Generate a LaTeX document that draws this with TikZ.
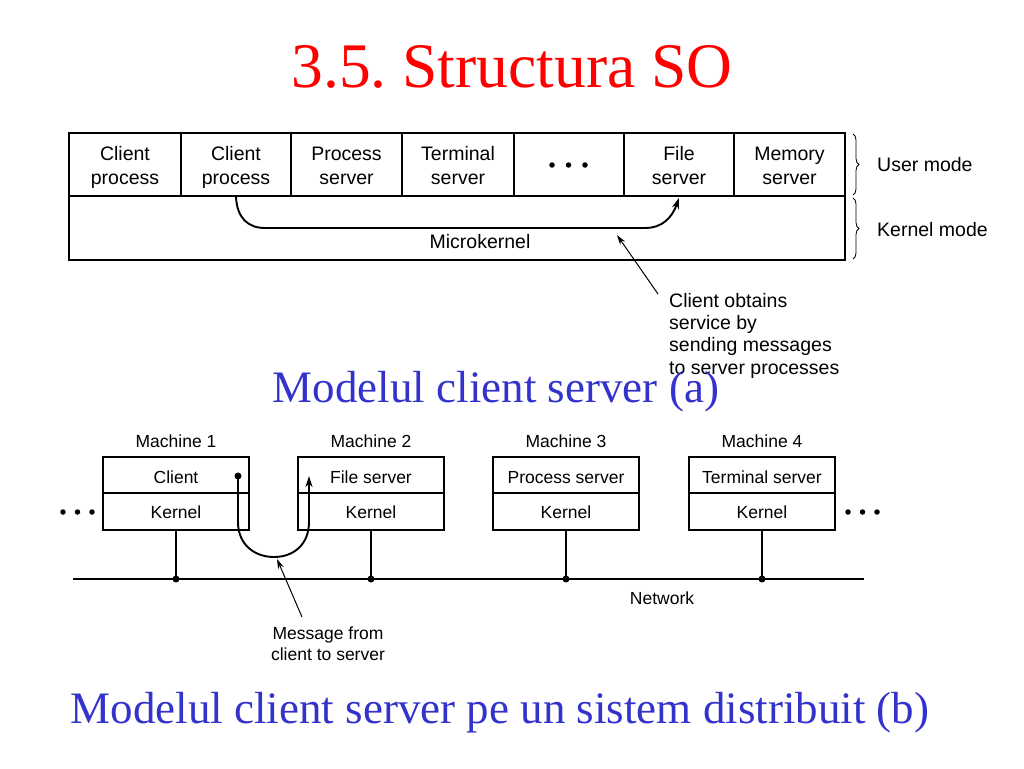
\documentclass[tikz,border=0pt]{standalone}
\usepackage{fontspec}
\setmainfont{Liberation Serif}
\newfontfamily\hel{Liberation Sans}
\usetikzlibrary{arrows.meta,decorations.pathreplacing}
\definecolor{titlered}{RGB}{255,0,0}
\definecolor{subblue}{RGB}{51,51,204}
\newcommand\cst{\rule[-4.5pt]{0pt}{24pt}}
\frenchspacing
\begin{document}
\begin{tikzpicture}[x=1pt,y=-1pt,
  cell/.style={draw,line width=1.7pt,inner sep=0pt,align=center,minimum height=63pt,
    font=\hel\fontsize{19.5}{24}\selectfont},
  mbox/.style={draw,line width=1.7pt,inner sep=0pt,align=center,minimum width=146pt,
    font=\hel\fontsize{17.5}{21}\selectfont},
  toptext/.style={font=\hel\fontsize{19.5}{22.3}\selectfont,inner sep=0pt},
  bottext/.style={font=\hel\fontsize{17.5}{20.5}\selectfont,inner sep=0pt},
  wire/.style={line width=1.8pt},
  thinptr/.style={line width=1pt,-{Stealth[length=10pt,width=6pt]}},
  msg/.style={line width=1.9pt,-{Stealth[length=11pt,width=7pt]}},
  dot/.style={circle,fill,inner sep=0pt,minimum size=7pt},
  ldot/.style={circle,fill,inner sep=0pt,minimum size=5.5pt}
]
\useasboundingbox (0,0) rectangle (1024,768);

% Title
\node[anchor=base,text=titlered,font=\fontsize{63.5}{70}\selectfont,inner sep=0pt] (title) at (512,87) {3.5. Structura SO};

% ---------- Diagram (a) ----------
\node[cell,minimum width=112pt] (c1) at (125,164.5) {\cst Client\\\cst process};
\node[cell,minimum width=110pt] (c2) at (236,164.5) {\cst Client\\\cst process};
\node[cell,minimum width=111pt] (c3) at (346.5,164.5) {\cst Process\\\cst server};
\node[cell,minimum width=112pt] (c4) at (458,164.5) {\cst Terminal\\\cst server};
\node[cell,minimum width=110pt] (c5) at (569,164.5) {};
\node[cell,minimum width=110pt] (c6) at (679,164.5) {\cst File\\\cst server};
\node[cell,minimum width=111pt] (c7) at (789.5,164.5) {\cst Memory\\\cst server};
\node[draw,line width=1.7pt,minimum width=776pt,minimum height=64pt,inner sep=0pt] (mk) at (457,228) {};
\node[toptext] (mklabel) at (480,242) {Microkernel};
\node[ldot] (d1) at (552,165) {};
\node[ldot] (d2) at (568.5,165) {};
\node[ldot] (d3) at (585,165) {};

\coordinate (arcL) at (265,228);
\coordinate (arcR) at (645,228);
\draw[msg] (c2.south) .. controls (237,218) and (248,228) .. (arcL) -- (arcR)
  .. controls (662,228) and (672,218) .. ([yshift=-1pt]c6.south);

\draw[decorate,decoration={brace,amplitude=6pt},line width=0.8pt] (853,134) -- (853,195);
\draw[decorate,decoration={brace,amplitude=6pt},line width=0.8pt] (853,198) -- (853,259);
\node[toptext,anchor=west] (um) at (877,165) {User mode};
\node[toptext,anchor=west] (km) at (877,230) {Kernel mode};

\node[toptext,anchor=north west,align=left] (ann) at (669,293) {Client obtains\\service by\\sending messages\\to server processes};
\coordinate (annptr) at (658,294);
\coordinate (arcptr) at (617,235);
\draw[thinptr] (annptr) -- (arcptr);

\node[anchor=base,text=subblue,font=\fontsize{45}{50}\selectfont,inner sep=0pt] (suba) at (496,402) {Modelul client server (a)};

% ---------- Diagram (b) ----------
\foreach \i/\x/\t in {1/176/Client,2/371/File server,3/566/Process server,4/762/Terminal server}{
  \node[bottext] (lab\i) at (\x,441) {Machine \i};
  \node[mbox,minimum height=36pt,text height=18pt,text depth=2pt] (u\i) at (\x,475) {\t};
  \node[mbox,minimum height=37pt,text height=16pt,text depth=3pt] (k\i) at (\x,511.5) {Kernel};
  \node[dot] (n\i) at (\x,579) {};
  \draw[wire] (k\i.south) -- (n\i.center);
}
\coordinate (netL) at (73,579);
\coordinate (netR) at (864,579);
\draw[wire] (netL) -- (netR);
\node[bottext] (netlabel) at (662,598) {Network};

\foreach \x [count=\j] in {63,77.5,92}{\node[ldot] (ld\j) at (\x,512) {};}
\foreach \x [count=\j] in {848,862.5,877}{\node[ldot] (rd\j) at (\x,512) {};}

\node[dot] (src) at (238,476) {};
\coordinate (dst) at (309,476);
\draw[msg] (src.center) -- (238,522) .. controls (238,545) and (255,557) .. (274,557)
  .. controls (293,557) and (309,545) .. (309,522) -- (dst);

\node[bottext,anchor=north,align=center] (ann2) at (328,627) {Message from\\client to server};
\coordinate (ann2ptr) at (302,617);
\coordinate (uptr) at (277,559);
\draw[thinptr] (ann2ptr) -- (uptr);

\node[anchor=base,text=subblue,font=\fontsize{45}{50}\selectfont,inner sep=0pt] (subb) at (500,723) {Modelul client server pe un sistem distribuit (b)};
\end{tikzpicture}
\end{document}
